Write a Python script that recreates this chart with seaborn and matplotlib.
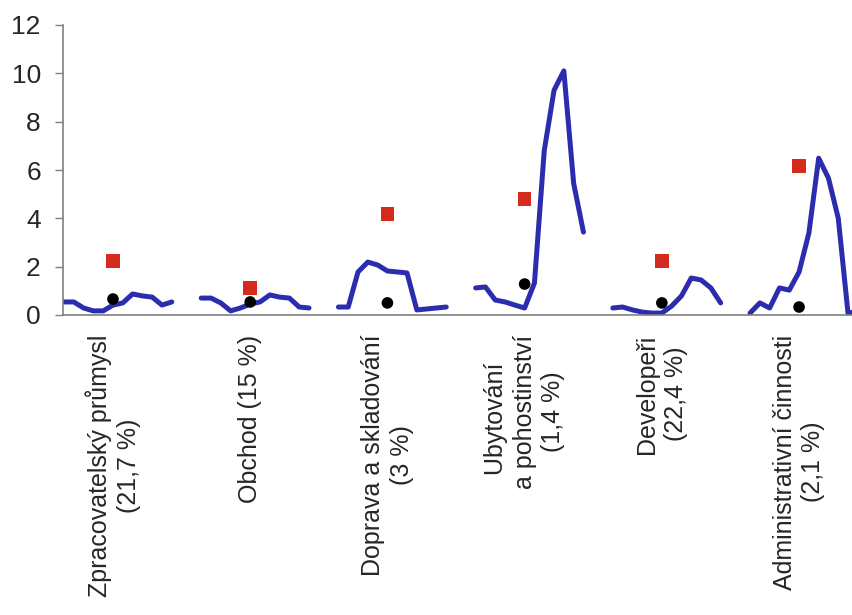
import matplotlib
matplotlib.use("Agg")
import matplotlib.pyplot as plt
import numpy as np
import pandas as pd
import seaborn as sns

# categories (x tick labels)
categories = [
    "Zpracovatelský průmysl\n(21,7 %)",
    "Obchod (15 %)",
    "Doprava a skladování\n(3 %)",
    "Ubytování  \na pohostinství\n(1,4 %)",
    "Developeři\n(22,4 %)",
    "Administrativní činnosti\n(2,1 %)",
]

# blue lines - one short series per category
zpracovatelsky = [0.54, 0.54, 0.29, 0.17, 0.17, 0.41, 0.50, 0.87, 0.79, 0.74, 0.41, 0.54]
obchod = [0.70, 0.70, 0.50, 0.17, 0.29, 0.45, 0.54, 0.83, 0.74, 0.70, 0.33, 0.29]
doprava = [0.33, 0.33, 1.78, 2.19, 2.07, 1.82, 1.78, 1.74, 0.21, 0.25, 0.29, 0.33]
ubytovani = [1.12, 1.16, 0.62, 0.54, 0.41, 0.29, 1.32, 6.80, 9.30, 10.10, 5.45, 3.43]
developeri = [0.29, 0.33, 0.21, 0.12, 0.08, 0.08, 0.37, 0.79, 1.53, 1.45, 1.12, 0.50]
administrativni = [0.08, 0.50, 0.29, 1.12, 1.03, 1.78, 3.39, 6.49, 5.66, 4.00, 0.05, 0.20]

# red squares and black dots
red_values = [2.23, 1.12, 4.17, 4.80, 2.23, 6.16]
black_values = [0.66, 0.54, 0.50, 1.28, 0.50, 0.33]

series = [zpracovatelsky, obchod, doprava, ubytovani, developeri, administrativni]
step = 14   # slots per category (12 points + gap)
mark = 5    # slot of the markers / label

rows = []
for g, vals in enumerate(series):
    for i, v in enumerate(vals):
        rows.append({"x": g * step + i, "value": v, "group": g})
lines = pd.DataFrame(rows)

pts = pd.DataFrame({
    "x": [g * step + mark for g in range(len(categories))],
    "red": red_values,
    "black": black_values,
})

sns.set_style("white")
plt.rcParams["font.family"] = ["Liberation Sans", "DejaVu Sans"]

fig = plt.figure(figsize=(8.52, 6.15), dpi=100)
ax = fig.add_axes([63 / 852, 1 - 315 / 615, 1 - 63 / 852, 290 / 615])

sns.lineplot(data=lines, x="x", y="value", units="group", estimator=None,
             color="#2B2DAE", linewidth=3.6, ax=ax,
             solid_joinstyle="round", solid_capstyle="round")
sns.scatterplot(data=pts, x="x", y="red", marker="s", s=95, color="#D42B1E",
                edgecolor="none", ax=ax, zorder=3)
sns.scatterplot(data=pts, x="x", y="black", marker="o", s=70, color="black",
                edgecolor="none", ax=ax, zorder=3)

ax.set_xlim(-0.1, 80.4)
ax.set_ylim(0, 12)
ax.set_yticks(range(0, 13, 2))
ax.set_xticks(pts["x"])
ax.set_xticklabels(categories, rotation=90, fontsize=18, ha="center",
                   va="top", multialignment="center", linespacing=1.25)
ax.tick_params(axis="y", labelsize=19, length=6, width=1, color="#808080",
               direction="out", pad=10, left=True)
ax.tick_params(axis="x", length=0, pad=14)
ax.set_xlabel("")
ax.set_ylabel("")

sns.despine(ax=ax, top=True, right=True)
for side in ("left", "bottom"):
    ax.spines[side].set_color("#808080")
    ax.spines[side].set_linewidth(1.2)

fig.savefig("out.png", dpi=100)
